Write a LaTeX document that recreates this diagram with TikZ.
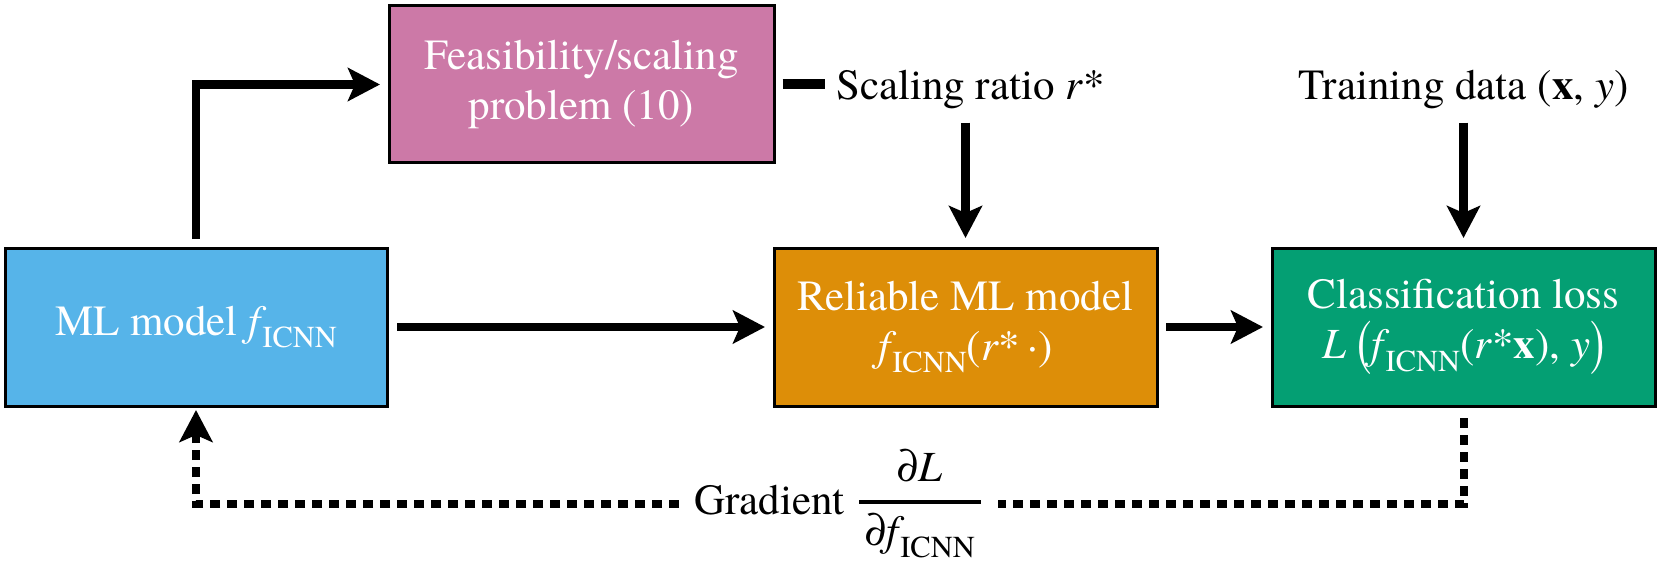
\documentclass[tikz,border=0pt]{standalone}
\usepackage{graphicx}
\usepackage{fontspec}
\IfFontExistsTF{texgyretermes-regular.otf}{%
  \setmainfont{texgyretermes}[Extension=.otf, UprightFont=*-regular, BoldFont=*-bold, ItalicFont=*-italic, BoldItalicFont=*-bolditalic]%
}{%
  \IfFontExistsTF{LiberationSerif-Regular.ttf}{%
    \setmainfont{LiberationSerif}[Extension=.ttf, UprightFont=*-Regular, BoldFont=*-Bold, ItalicFont=*-Italic, BoldItalicFont=*-BoldItalic]%
  }{%
    \setmainfont{Liberation Serif}%
  }%
}
\usetikzlibrary{arrows.meta}
\definecolor{cblue}{HTML}{56B4E9}
\definecolor{corange}{HTML}{DD8E08}
\definecolor{cpink}{HTML}{CC79A7}
\definecolor{cgreen}{HTML}{049F73}
\newcommand\mysub[1]{\kern-0.1em\raisebox{-0.29em}{\fontsize{30.5}{30.5}\selectfont #1}}
\newcommand\bigparen[1]{\raisebox{-0.1em}{\scalebox{1}[1.46]{#1}}}
\begin{document}
\begin{tikzpicture}[x=1pt,y=-1pt,
  txt/.style={font=\fontsize{43}{50}\selectfont, inner sep=0pt},
  blk/.style={txt, draw=black, line width=3pt, text=white, align=center, minimum width=382pt, minimum height=158pt},
  arr/.style={line width=8.5pt, -{Stealth[length=32pt,width=33pt,inset=7pt]}},
  dotln/.style={line width=8pt, dash pattern=on 10pt off 7pt}]
\useasboundingbox (0,0) rectangle (1661,564);
\node[blk, fill=cpink, minimum width=385pt, minimum height=157pt] (feas) at (581.5,84.5) {Feasibility/scaling\\problem (10)};
\node[blk, fill=cblue] (ml) at (196,327) {ML model \textit{f}\mysub{ICNN}};
\node[blk, fill=corange, minimum width=383pt] (rel) at (965.5,327) {Reliable ML model\\\textit{f}\mysub{ICNN}(\textit{r}*\,·)};
\node[blk, fill=cgreen, minimum width=383pt] (cls) at (1463.5,327) {Classification loss\\\textit{L} \bigparen{(}\textit{f}\mysub{ICNN}(\textit{r}*\textbf{x}), \textit{y}\bigparen{)}};
\node[txt, anchor=base west] (ratio) at (836,100) {Scaling ratio \textit{r}*};
\node[txt, anchor=base] (data) at (1463.5,100) {Training data (\textbf{x}, \textit{y})};
\node[txt, anchor=base west] (grad) at (694,514) {Gradient};
\node[txt, anchor=base] (num) at (920,481) {\textit{∂L}};
\node[txt, anchor=base] (den) at (920,545) {\textit{∂f}\mysub{ICNN}};
\coordinate (rl) at (859,502);
\coordinate (rr) at (981,502);
\coordinate (dR) at (998,504);
\coordinate (dL) at (679,504);
\draw[line width=4.5pt] (rl) -- (rr);
% arrows
\draw[arr, shorten <=7.5pt, shorten >=7.5pt] (ml.north) |- (feas.west);
\draw[line width=10pt, shorten <=7pt, shorten >=11pt] (feas.east) -- (feas.east -| ratio.west);
\draw[arr, shorten <=13pt, shorten >=8.5pt] (rel.north |- ratio.south) -- (rel.north);
\draw[arr, shorten <=13pt, shorten >=8.5pt] (data.south) -- (cls.north);
\draw[arr, shorten <=8.5pt, shorten >=7.5pt] (ml.east) -- (rel.west);
\draw[arr, shorten <=7.5pt, shorten >=7.5pt] (rel.east) -- (cls.west);
% gradient feedback
\draw[dotln, shorten <=10.5pt] (cls.south) |- (dR);
\draw[dotln, -{Stealth[length=32pt,width=33pt,inset=7pt]}, shorten >=2.5pt] (dL) -| (ml.south);
\end{tikzpicture}
\end{document}
